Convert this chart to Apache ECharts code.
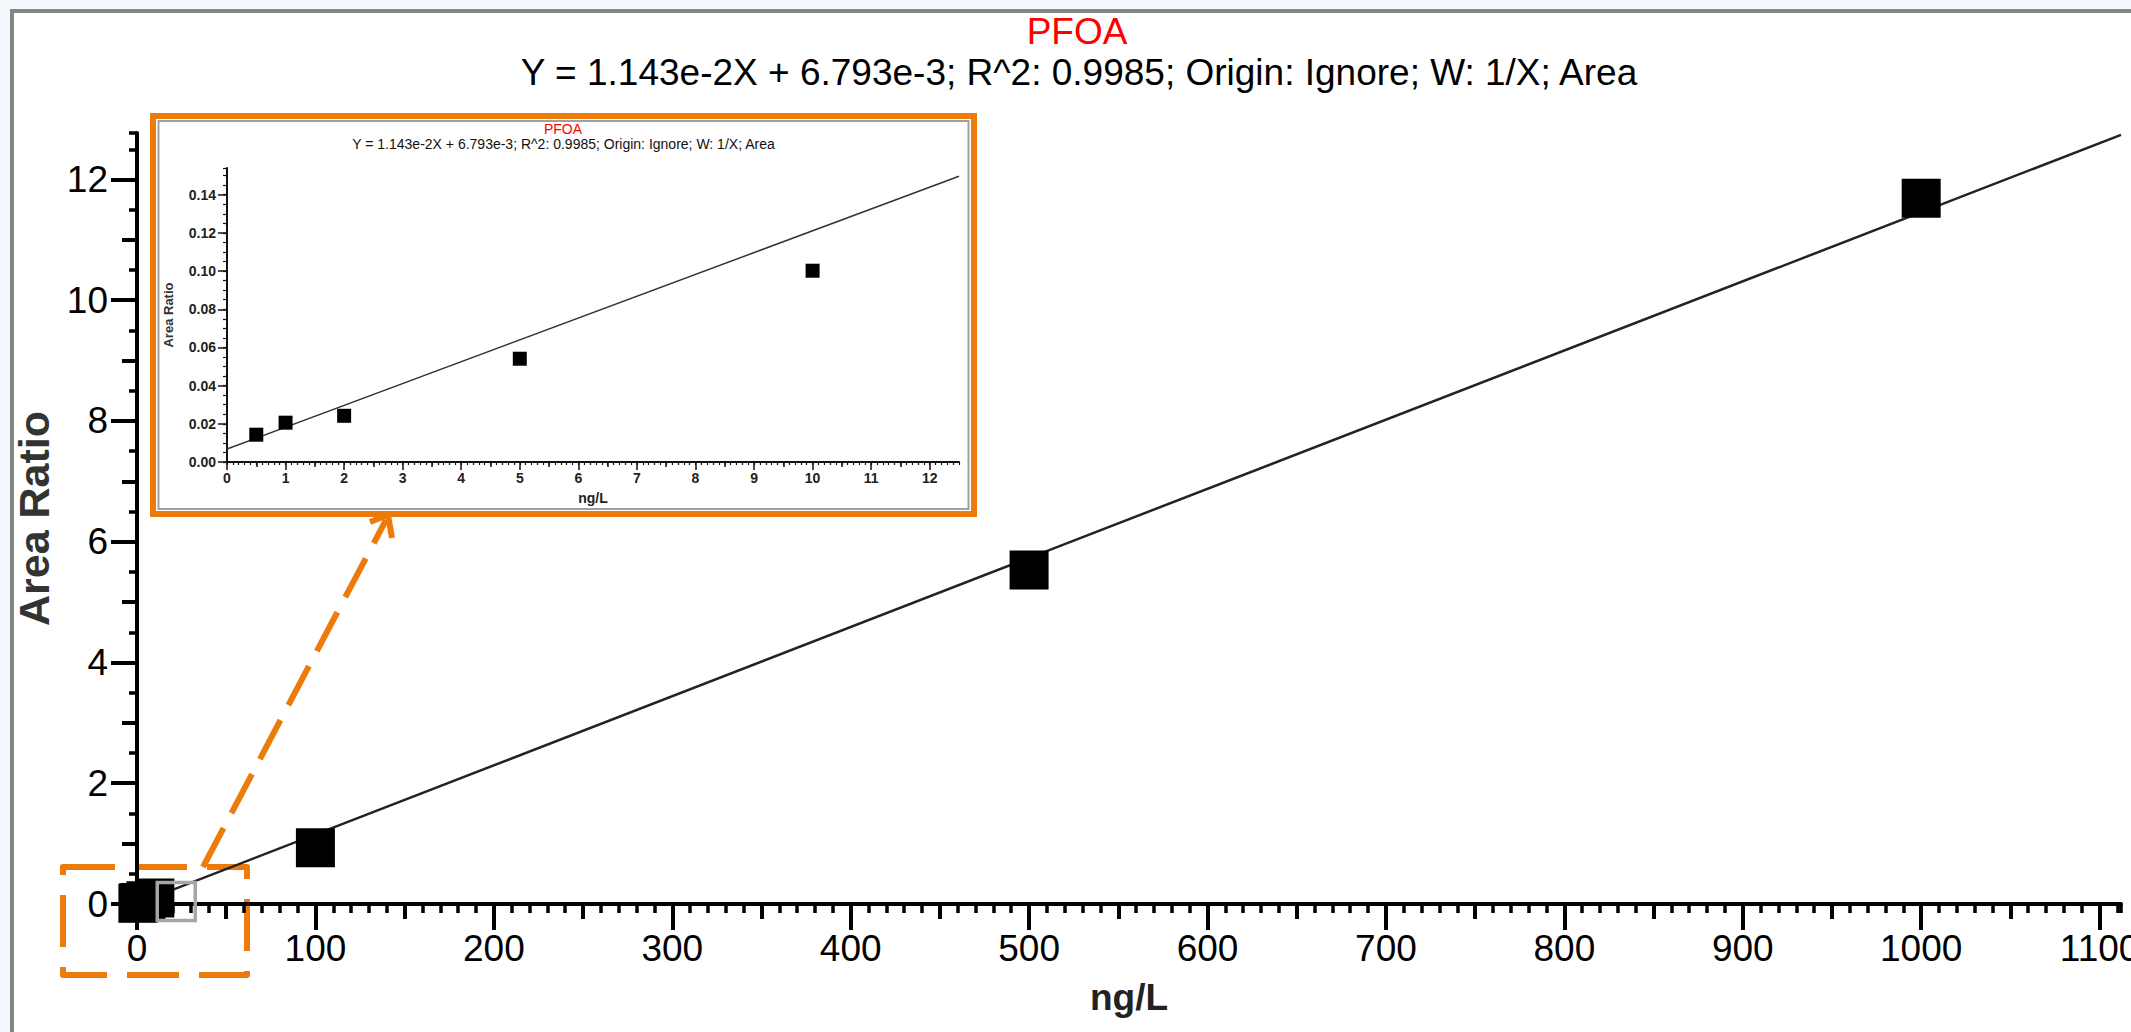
<!DOCTYPE html>
<html>
<head>
<meta charset="utf-8">
<title>PFOA calibration</title>
<script src="https://cdn.jsdelivr.net/npm/echarts@6/dist/echarts.min.js"></script>
<style>
  html, body { margin: 0; padding: 0; background: #fff; }
  #chart { width: 2131px; height: 1032px; }
</style>
</head>
<body>
<div id="chart"></div>
<script>
// calibration standards: concentration (ng/L) and measured area ratio
const concentration = [0.5, 1, 2, 5, 10, 100, 500, 1000];
const areaRatio = [0.0143, 0.0206, 0.0242, 0.0541, 0.1002, 0.93, 5.53, 11.69];

// grey outlined point sitting near the origin
const markedConc = [22];
const markedRatio = [0.04];

// regression line end points, full view and zoomed view
const fitConc = [0, 1112];
const fitRatio = [0.0068, 12.74];
const zoomFitConc = [0, 12.5];
const zoomFitRatio = [0.0068, 0.1497];

// tick labels
const xTicks = [0, 100, 200, 300, 400, 500, 600, 700, 800, 900, 1000, 1100];
const xMidTicks = [50, 150, 250, 350, 450, 550, 650, 750, 850, 950, 1050];
const yTicks = [0, 2, 4, 6, 8, 10, 12];
const yMidTicks = [1, 3, 5, 7, 9, 11];
const zoomXTicks = [0, 1, 2, 3, 4, 5, 6, 7, 8, 9, 10, 11, 12];
const zoomXMidTicks = [0.5, 1.5, 2.5, 3.5, 4.5, 5.5, 6.5, 7.5, 8.5, 9.5, 10.5, 11.5];
const zoomYTicks = [0, 0.02, 0.04, 0.06, 0.08, 0.1, 0.12, 0.14];

const FONT = '"Liberation Sans", Arial, sans-serif';
const ORANGE = '#ec7b0b';

const pairs = (xs, ys) => xs.map((x, i) => [x, ys[i]]);
const zoomPoints = pairs(concentration, areaRatio).filter(p => p[0] <= 12.5);

// axis that only draws extra tick marks (no line, no labels)
function tickOnly(base, tick) {
    return Object.assign({
        type: 'value',
        axisLine: { show: false },
        axisLabel: { show: false },
        splitLine: { show: false }
    }, base, { axisTick: Object.assign({ show: true, inside: false }, tick) });
}

const mainX = { gridIndex: 0, position: 'bottom', min: 0, max: 1112 };
const mainY = { gridIndex: 0, position: 'left', min: 0, max: 12.77 };
const zoomX = { gridIndex: 1, position: 'bottom', min: 0, max: 12.5 };
const zoomY = { gridIndex: 1, position: 'left', min: 0, max: 0.154 };

const myChart = echarts.init(document.getElementById('chart'), null, { renderer: 'svg' });

const option = {
    animation: false,
    backgroundColor: '#fff',
    textStyle: { fontFamily: FONT },
    grid: [
        { left: 137, right: 10, top: 133, bottom: 128, containLabel: false, outerBoundsMode: 'none' },
        { left: 227, right: 1172, top: 168, bottom: 570, containLabel: false, outerBoundsMode: 'none' }
    ],
    xAxis: [
        Object.assign({}, mainX, {
            type: 'value',
            axisLine: { onZero: false, lineStyle: { color: '#000', width: 4 } },
            axisTick: { customValues: xTicks, length: 26, lineStyle: { color: '#000', width: 4 } },
            axisLabel: {
                customValues: xTicks, margin: 26, fontSize: 37, color: '#000', fontFamily: FONT,
                formatter: v => String(v)
            },
            splitLine: { show: false },
            name: 'ng/L',
            nameLocation: 'middle',
            nameGap: 75,
            nameTextStyle: { fontSize: 37, fontWeight: 'bold', color: '#222', fontFamily: FONT }
        }),
        tickOnly(mainX, { customValues: xMidTicks, length: 15, lineStyle: { color: '#000', width: 4 } }),
        tickOnly(Object.assign({ interval: 10 }, mainX), { length: 9, lineStyle: { color: '#000', width: 3.5 } }),
        Object.assign({}, zoomX, {
            type: 'value',
            axisLine: { onZero: false, lineStyle: { color: '#111', width: 2 } },
            axisTick: { customValues: zoomXTicks, length: 8, lineStyle: { color: '#111', width: 1.5 } },
            axisLabel: { customValues: zoomXTicks, margin: 9, fontSize: 14, fontWeight: 'bold', color: '#222', fontFamily: FONT },
            splitLine: { show: false },
            name: 'ng/L',
            nameLocation: 'middle',
            nameGap: 29,
            nameTextStyle: { fontSize: 14, fontWeight: 'bold', color: '#222', fontFamily: FONT }
        }),
        tickOnly(zoomX, { customValues: zoomXMidTicks, length: 5, lineStyle: { color: '#111', width: 1.5 } }),
        tickOnly(Object.assign({ interval: 0.1 }, zoomX), { length: 3, lineStyle: { color: '#111', width: 1.2 } })
    ],
    yAxis: [
        Object.assign({}, mainY, {
            type: 'value',
            axisLine: { onZero: false, lineStyle: { color: '#000', width: 4 } },
            axisTick: { customValues: yTicks, length: 26, lineStyle: { color: '#000', width: 4 } },
            axisLabel: {
                customValues: yTicks, margin: 29, fontSize: 37, color: '#000', fontFamily: FONT,
                formatter: v => String(v)
            },
            splitLine: { show: false },
            name: 'Area Ratio',
            nameLocation: 'middle',
            nameGap: 70,
            nameTextStyle: { fontSize: 43, fontWeight: 'bold', color: '#333', fontFamily: FONT }
        }),
        tickOnly(mainY, { customValues: yMidTicks, length: 15, lineStyle: { color: '#000', width: 4 } }),
        tickOnly(Object.assign({ interval: 0.5 }, mainY), { length: 8, lineStyle: { color: '#000', width: 3.5 } }),
        Object.assign({}, zoomY, {
            type: 'value',
            axisLine: { onZero: false, lineStyle: { color: '#111', width: 2 } },
            axisTick: { customValues: zoomYTicks, length: 9, lineStyle: { color: '#111', width: 1.5 } },
            axisLabel: {
                customValues: zoomYTicks, margin: 11, fontSize: 14, fontWeight: 'bold', color: '#222', fontFamily: FONT,
                formatter: v => v.toFixed(2)
            },
            splitLine: { show: false },
            name: 'Area Ratio',
            nameLocation: 'middle',
            nameGap: 52,
            nameTextStyle: { fontSize: 13, fontWeight: 'bold', color: '#333', fontFamily: FONT }
        }),
        tickOnly(Object.assign({ interval: 0.005 }, zoomY), { length: 4, lineStyle: { color: '#111', width: 1.2 } })
    ],
    series: [
        {
            type: 'line', xAxisIndex: 0, yAxisIndex: 0, silent: true, z: 2,
            showSymbol: false,
            lineStyle: { color: '#222', width: 2.5 },
            data: pairs(fitConc, fitRatio)
        },
        {
            type: 'scatter', xAxisIndex: 0, yAxisIndex: 0, silent: true, z: 3,
            symbol: 'rect', symbolSize: 39,
            itemStyle: { color: '#000', opacity: 1 },
            data: pairs(concentration, areaRatio)
        },
        {
            type: 'scatter', xAxisIndex: 0, yAxisIndex: 0, silent: true, z: 4,
            symbol: 'rect', symbolSize: 38,
            itemStyle: { color: 'rgba(0,0,0,0)', borderColor: '#a6a6a6', borderWidth: 3.5, opacity: 1 },
            data: pairs(markedConc, markedRatio)
        },
        {
            type: 'line', xAxisIndex: 3, yAxisIndex: 3, silent: true, z: 2,
            showSymbol: false,
            lineStyle: { color: '#333', width: 1.5 },
            data: pairs(zoomFitConc, zoomFitRatio)
        },
        {
            type: 'scatter', xAxisIndex: 3, yAxisIndex: 3, silent: true, z: 3,
            symbol: 'rect', symbolSize: 14,
            itemStyle: { color: '#000', opacity: 1 },
            data: zoomPoints
        }
    ],
    graphic: [
        // page frame
        { type: 'rect', silent: true, shape: { x: 0, y: 0, width: 2131, height: 9 }, style: { fill: '#f4f7fb' } },
        { type: 'rect', silent: true, shape: { x: 0, y: 0, width: 10, height: 1032 }, style: { fill: '#f4f7fb' } },
        { type: 'line', silent: true, shape: { x1: 10, y1: 11, x2: 2131, y2: 11 }, style: { stroke: '#858585', lineWidth: 4 } },
        { type: 'line', silent: true, shape: { x1: 12, y1: 9, x2: 12, y2: 1032 }, style: { stroke: '#858585', lineWidth: 4 } },
        // titles
        {
            type: 'text', silent: true, x: 1077, y: 31,
            style: { text: 'PFOA', fill: '#ff0000', font: '37px ' + FONT, align: 'center', verticalAlign: 'middle' }
        },
        {
            type: 'text', silent: true, x: 1079, y: 72,
            style: { text: 'Y = 1.143e-2X + 6.793e-3; R^2: 0.9985; Origin: Ignore; W: 1/X; Area', fill: '#000', font: '37px ' + FONT, align: 'center', verticalAlign: 'middle' }
        },
        // zoomed view frame
        { type: 'rect', silent: true, shape: { x: 158.5, y: 121, width: 810, height: 388 }, style: { fill: 'none', stroke: '#a0a0a0', lineWidth: 2 } },
        { type: 'rect', silent: true, shape: { x: 153, y: 116, width: 821, height: 398 }, style: { fill: 'none', stroke: ORANGE, lineWidth: 6 } },
        {
            type: 'text', silent: true, x: 563, y: 129,
            style: { text: 'PFOA', fill: '#ff0000', font: '14px ' + FONT, align: 'center', verticalAlign: 'middle' }
        },
        {
            type: 'text', silent: true, x: 563.5, y: 144,
            style: { text: 'Y = 1.143e-2X + 6.793e-3; R^2: 0.9985; Origin: Ignore; W: 1/X; Area', fill: '#111', font: '14px ' + FONT, align: 'center', verticalAlign: 'middle' }
        },
        // dashed box around the low end and the arrow to the zoomed view
        {
            type: 'rect', silent: true, shape: { x: 63, y: 867, width: 184, height: 108 },
            style: { fill: 'none', stroke: ORANGE, lineWidth: 6, lineDash: [52, 20], lineJoin: 'round' }
        },
        {
            type: 'line', silent: true, shape: { x1: 203, y1: 867, x2: 386, y2: 520 },
            style: { stroke: ORANGE, lineWidth: 6, lineDash: [44, 17] }
        },
        {
            type: 'polyline', silent: true, shape: { points: [[370, 522], [388, 515], [392, 538]] },
            style: { fill: 'none', stroke: ORANGE, lineWidth: 6 }
        }
    ]
};

myChart.setOption(option);

window.addEventListener('resize', () => {
    myChart.resize();
});
</script>
</body>
</html>
